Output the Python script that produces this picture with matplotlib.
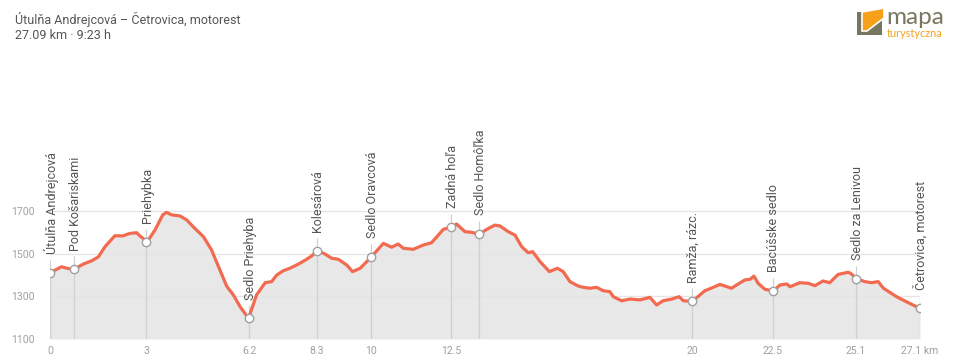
import matplotlib
matplotlib.use("Agg")
import matplotlib.pyplot as plt
from matplotlib.patches import Polygon

plt.rcParams['font.family'] = ['Roboto', 'DejaVu Sans']

# ---- data ----
title = "Útulňa Andrejcová – Četrovica, motorest"
subtitle = "27.09 km · 9:23 h"

profile_km = [0.00, 0.36, 0.52, 0.75, 1.04, 1.30, 1.51, 1.71, 2.02, 2.26, 2.49, 2.70, 2.80,
              3.03, 3.27, 3.51, 3.63, 3.79, 4.05, 4.26, 4.46, 4.78, 5.03, 5.29, 5.50, 5.71,
              5.92, 6.18, 6.43, 6.70, 6.90, 7.06, 7.26, 7.47, 7.73, 7.99, 8.15, 8.32, 8.56,
              8.77, 8.98, 9.24, 9.42, 9.66, 10.01, 10.38, 10.64, 10.84, 11.00, 11.31, 11.62,
              11.88, 12.25, 12.51, 12.66, 12.92, 13.13, 13.37, 13.60, 13.85, 14.01, 14.27,
              14.48, 14.69, 14.89, 15.03, 15.26, 15.55, 15.80, 15.98, 16.19, 16.45, 16.61,
              16.81, 17.02, 17.23, 17.43, 17.54, 17.80, 18.06, 18.37, 18.68, 18.89, 19.09,
              19.36, 19.59, 19.72, 20.00, 20.39, 20.65, 20.86, 21.02, 21.22, 21.43, 21.64,
              21.80, 21.92, 22.05, 22.26, 22.52, 22.73, 22.94, 23.04, 23.35, 23.61, 23.82,
              24.07, 24.28, 24.54, 24.85, 24.93, 25.12, 25.37, 25.58, 25.79, 25.95, 26.36,
              26.67, 27.09]
profile_ele = [1412, 1440, 1433, 1428, 1453, 1468, 1487, 1534, 1586, 1585, 1597, 1600, 1585,
               1558, 1613, 1684, 1696, 1684, 1679, 1660, 1628, 1581, 1519, 1425, 1349, 1307,
               1252, 1197, 1307, 1365, 1370, 1401, 1421, 1433, 1452, 1475, 1491, 1516, 1500,
               1480, 1475, 1448, 1417, 1433, 1487, 1550, 1532, 1547, 1527, 1522, 1542,
               1553, 1616, 1628, 1641, 1605, 1602, 1593, 1616, 1636, 1632, 1605,
               1589, 1534, 1506, 1511, 1464, 1417, 1433, 1417, 1370, 1349, 1343,
               1339, 1343, 1327, 1323, 1299, 1280, 1288, 1284, 1296, 1260, 1280,
               1288, 1299, 1280, 1277, 1327, 1343, 1357, 1349, 1339, 1359, 1378,
               1381, 1396, 1362, 1334, 1326, 1354, 1359, 1346, 1365, 1362, 1351,
               1373, 1365, 1404, 1414, 1409, 1384, 1370, 1365, 1370, 1339, 1299,
               1275, 1244]

wp_names = ["Útulňa Andrejcová", "Pod Košariskami", "Priehybka", "Sedlo Priehyba",
            "Kolesárová", "Sedlo Oravcová", "Zadná hoľa", "Sedlo Homôľka",
            "Ramža, rázc.", "Bacúšske sedlo", "Sedlo za Lenivou", "Četrovica, motorest"]
wp_km = [0.0, 0.75, 3.0, 6.2, 8.3, 10.0, 12.5, 13.37, 20.0, 22.5, 25.1, 27.09]
wp_ele = [1412, 1428, 1558, 1197, 1516, 1487, 1628, 1593, 1277, 1326, 1384, 1244]

xtick_pos = [0, 3, 6.2, 8.3, 10, 12.5, 20, 22.5, 25.1, 27.09]
xtick_labels = ["0", "3", "6.2", "8.3", "10", "12.5", "20", "22.5", "25.1", "27.1 km"]
ytick_pos = [1100, 1300, 1500, 1700]

# ---- figure ----
W, H = 960, 362
fig = plt.figure(figsize=(W / 100, H / 100), dpi=100)
ax = fig.add_axes([50 / W, (H - 339) / H, 870 / W, 339 / H])
ax.set_xlim(0, 27.09)
ax.set_ylim(1100, 1100 + 339 / 0.2125)
for s in ax.spines.values():
    s.set_visible(False)
ax.set_facecolor('none')

ax.fill_between(profile_km, profile_ele, 1100, color='#e8e8e8', lw=0, zorder=1)
for y in ytick_pos:
    ax.plot([0, 27.09], [y, y], color='#ebebeb', lw=1.0, zorder=0.5)
for y in ytick_pos[1:]:
    ax.plot([0, 27.09], [y, y], color='#e2e2e2', lw=0.8, zorder=1.5, alpha=0.6)

line_top = [e + 13 / 0.2125 for e in wp_ele]
ax.vlines(wp_km, 1100, line_top, colors='#d0d0d0', lw=0.9, zorder=2)

ax.plot(profile_km, profile_ele, color='#f26a4f', lw=2.3, zorder=3, solid_joinstyle='round')
ax.scatter(wp_km, wp_ele, s=36, facecolor='white', edgecolor='#a0a0a0', linewidths=1.0, zorder=4)

for name, x, e in zip(wp_names, wp_km, wp_ele):
    ax.annotate(name, (x, e), xytext=(0.8, 13.5), textcoords='offset points',
                rotation=90, ha='center', va='bottom', fontsize=9, color='#555555',
                annotation_clip=False)

ax.set_xticks(xtick_pos)
ax.set_xticklabels(xtick_labels)
ax.set_yticks(ytick_pos)
ax.set_yticklabels([str(v) for v in ytick_pos])
ax.tick_params(axis='both', length=0, labelsize=7.5, labelcolor='#a0a0a0')
ax.tick_params(axis='y', pad=11)
ax.tick_params(axis='x', pad=5)

# ---- overlay for title and logo ----
ov = fig.add_axes([0, 0, 1, 1], zorder=-1)
ov.set_xlim(0, W)
ov.set_ylim(H, 0)
ov.axis('off')
ov.text(15, 24, title, fontsize=9, color='#555555', va='baseline', ha='left')
ov.text(15, 39, subtitle, fontsize=9, color='#555555', va='baseline', ha='left')

gray = '#77775f'
orange = '#f7a11a'
ov.add_patch(Polygon([(857, 12), (882, 12), (882, 35), (857, 35)], closed=True, color=gray, lw=0))
ov.add_patch(Polygon([(862, 12), (884, 8), (884, 18), (867, 31), (862, 31)], closed=True,
                     facecolor=orange, edgecolor='white', lw=1.2))
ov.text(886, 24, "mapa", fontsize=17.5, color=gray, ha='left', va='baseline', family=['Lato', 'DejaVu Sans'])
ov.text(887, 37, "turystyczna", fontsize=7.8, color=orange, ha='left', va='baseline', family=['Lato', 'DejaVu Sans'])

fig.savefig("out.png", dpi=100)
